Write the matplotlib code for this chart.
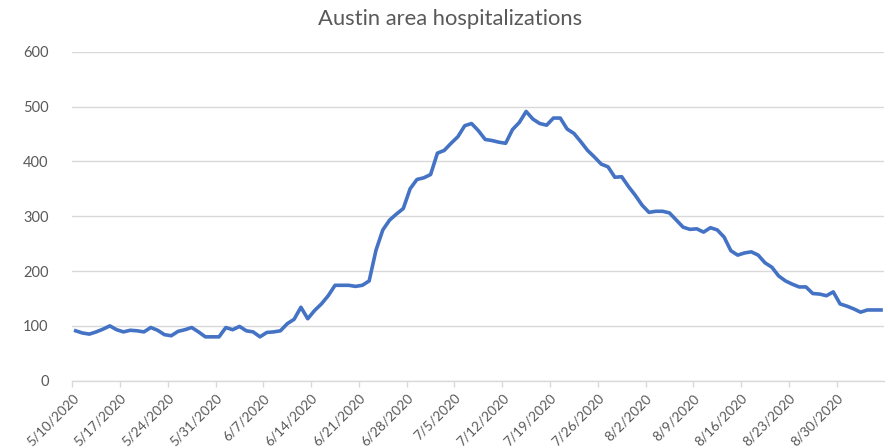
import matplotlib
matplotlib.use("Agg")
import matplotlib.pyplot as plt
import matplotlib.transforms as mtransforms
import numpy as np

start_date = "5/10/2020"
hospitalizations = [
    91, 87, 85, 89, 94, 100, 93, 89, 92, 91, 89, 97, 92, 84, 82, 90, 93, 97, 89, 80,
    80, 80, 97, 93, 99, 91, 89, 80, 88, 89, 91, 104, 112, 134, 113, 128, 140, 155, 174, 174,
    174, 172, 174, 182, 238, 275, 293, 304, 314, 350, 367, 370, 376, 415, 420, 433, 445, 465, 469, 456,
    440, 438, 435, 433, 458, 471, 491, 477, 469, 466, 479, 479, 459, 451, 436, 420, 408, 395, 390, 371,
    372, 354, 338, 320, 307, 309, 309, 306, 293, 280, 276, 277, 271, 279, 275, 262, 237, 229, 233, 235,
    229, 215, 207, 191, 182, 176, 171, 171, 159, 158, 155, 162, 140, 136, 131, 125, 129, 129, 129,
]
tick_labels = ["5/10/2020", "5/17/2020", "5/24/2020", "5/31/2020", "6/7/2020", "6/14/2020",
               "6/21/2020", "6/28/2020", "7/5/2020", "7/12/2020", "7/19/2020", "7/26/2020",
               "8/2/2020", "8/9/2020", "8/16/2020", "8/23/2020", "8/30/2020"]
y_ticks = [0, 100, 200, 300, 400, 500, 600]

plt.rcParams['font.family'] = ['Lato', 'DejaVu Sans']
fig = plt.figure(figsize=(8.88, 4.48), dpi=100)
ax = fig.add_axes([0.0814, 0.1502, 0.996 - 0.0814, 0.8846 - 0.1502])

n = len(hospitalizations)
x = np.arange(n) + 0.5
ax.plot(x, hospitalizations, color="#4472C4", linewidth=2.6, solid_joinstyle='round')

ax.set_xlim(0, n)
ax.set_ylim(0, 600)
ax.set_yticks(y_ticks)
ax.set_yticklabels([str(v) for v in y_ticks])
ax.set_xticks(np.arange(len(tick_labels)) * 7)
ax.set_xticklabels(tick_labels, rotation=45, ha='right', va='top', rotation_mode='anchor')

offset = mtransforms.ScaledTranslation(7 / 100, 1 / 100, fig.dpi_scale_trans)
for lbl in ax.get_xticklabels():
    lbl.set_transform(lbl.get_transform() + offset)

ax.grid(axis='y', color='#d9d9d9', linewidth=1)
ax.set_axisbelow(True)
for s in ['top', 'right', 'left']:
    ax.spines[s].set_visible(False)
ax.spines['bottom'].set_color('#d9d9d9')
ax.spines['bottom'].set_linewidth(1)
ax.tick_params(axis='y', length=0, pad=17, labelsize=10.5, labelcolor='#595959')
ax.tick_params(axis='x', length=4, color='#d9d9d9', width=1, pad=4, labelsize=9.8, labelcolor='#595959')

fig.text(0.507, 0.958, "Austin area hospitalizations", ha='center', va='center',
         fontsize=15.8, color='#595959')

fig.savefig("out.png", dpi=100)
